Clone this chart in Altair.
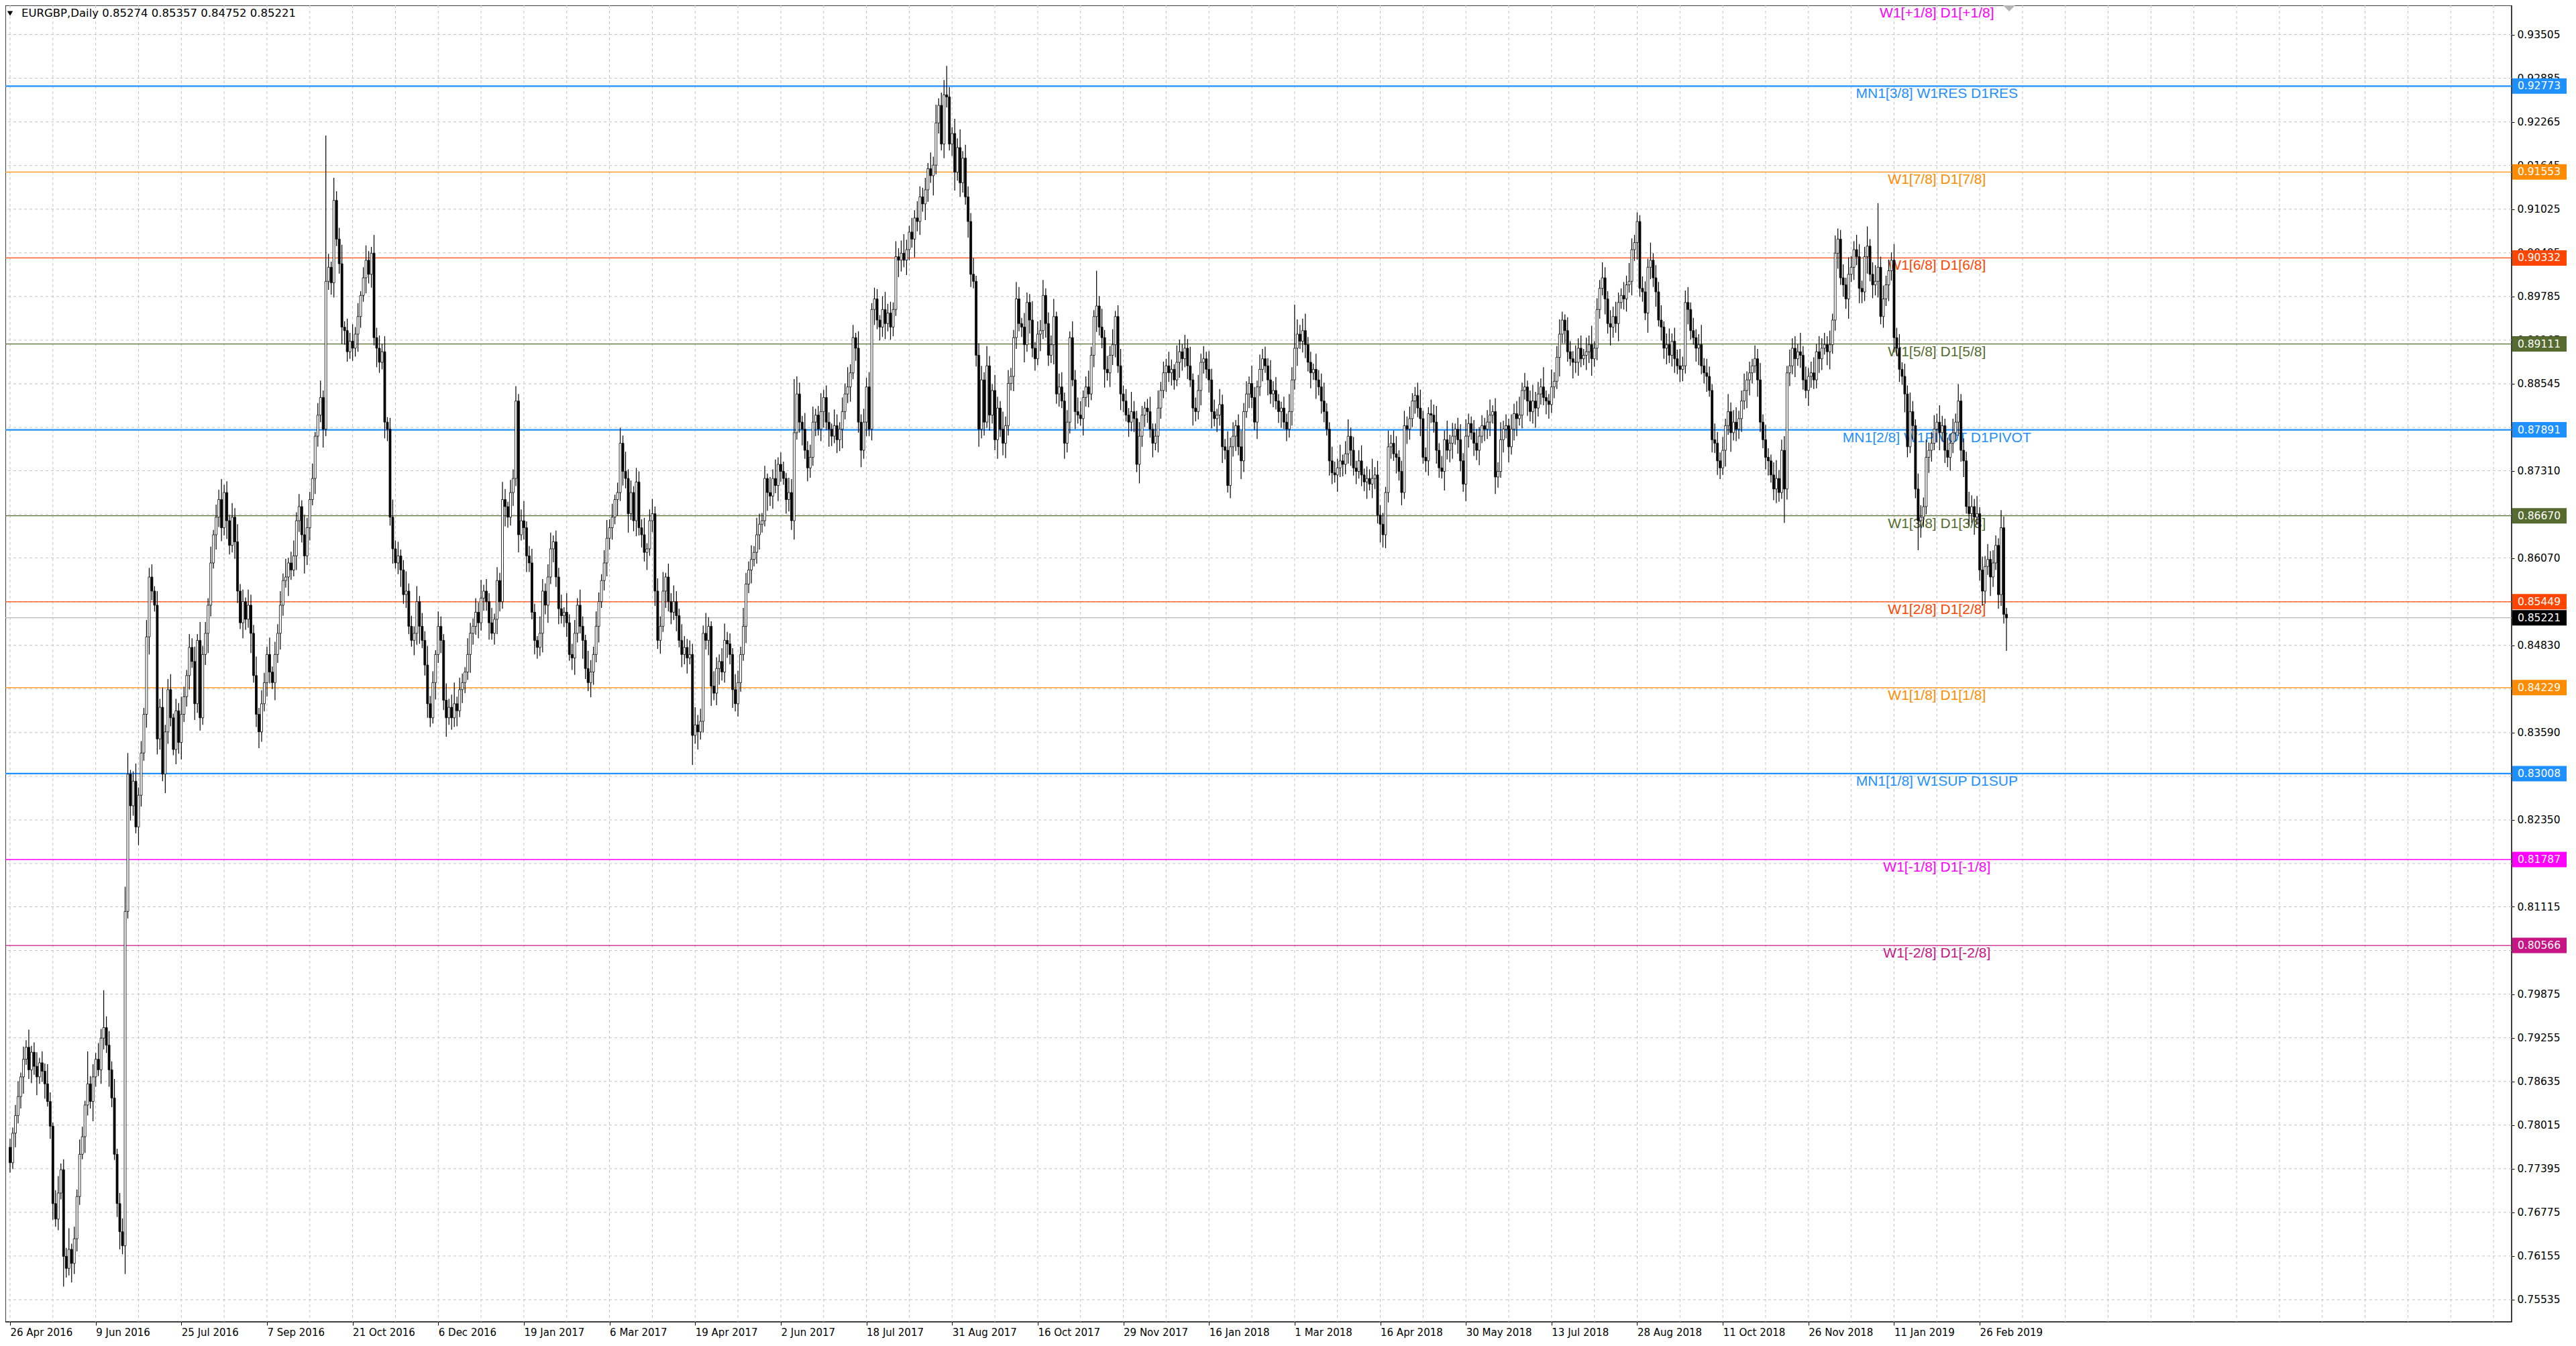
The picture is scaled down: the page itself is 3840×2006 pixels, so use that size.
import altair as alt
import pandas as pd

# EURGBP daily candles from 26 Apr 2016, prices in pips (1e-4)
FIRST_OPEN = 7770
CLOSE = [
    7748, 7790, 7815, 7842, 7870, 7895, 7912, 7880, 7905, 7885,
    7870, 7890, 7878, 7860, 7835, 7800, 7690, 7668, 7705, 7738,
    7615, 7598, 7625, 7605, 7640, 7700, 7760, 7785, 7830, 7860,
    7835, 7870, 7895, 7880, 7925, 7940, 7915, 7880, 7840, 7760,
    7690, 7650, 7630, 8105, 8300, 8255, 8290, 8225, 8270, 8330,
    8385, 8495, 8580, 8560, 8540, 8350, 8395, 8300, 8360, 8420,
    8380, 8335, 8390, 8345, 8385, 8410, 8440, 8480, 8460, 8400,
    8490, 8380, 8470, 8500, 8540, 8600, 8640, 8665, 8690, 8650,
    8700, 8660, 8625, 8665, 8630, 8560, 8515, 8545, 8520, 8540,
    8500, 8440, 8385, 8360, 8400, 8430, 8470, 8445, 8430, 8470,
    8500, 8540, 8575, 8580, 8600, 8590, 8610, 8660, 8680, 8640,
    8610, 8650, 8690, 8720, 8780, 8810, 8835, 8790, 9000, 9020,
    8998, 9115, 9060, 9025, 8935, 8930, 8900, 8915, 8905, 8925,
    8950, 8980, 9005, 9030, 9010, 9040, 8920, 8905, 8885, 8900,
    8800, 8790, 8665, 8620, 8600, 8610, 8590, 8555, 8560, 8510,
    8490, 8500, 8545, 8510, 8490, 8455, 8400, 8380, 8430, 8470,
    8510, 8490, 8405, 8380, 8395, 8380, 8400, 8390, 8420, 8430,
    8445, 8470, 8500, 8510, 8530, 8515, 8550, 8560, 8545, 8515,
    8500, 8520, 8575, 8545, 8690, 8680, 8665, 8700, 8720, 8830,
    8640, 8660, 8650, 8610, 8600, 8530, 8490, 8480, 8500, 8560,
    8540, 8580, 8620, 8630, 8580, 8535, 8525, 8530, 8515, 8470,
    8465, 8500, 8540, 8510, 8490, 8450, 8430, 8445, 8470, 8510,
    8545, 8575, 8600, 8635, 8650, 8665, 8690, 8700, 8770, 8730,
    8720, 8670, 8700, 8660, 8715, 8650, 8640, 8615, 8620, 8660,
    8670, 8560, 8490, 8510, 8560, 8580, 8545, 8530, 8545, 8525,
    8490, 8470, 8480, 8465, 8470, 8355, 8370, 8360, 8375, 8500,
    8490, 8510, 8425, 8415, 8450, 8460, 8445, 8490, 8485, 8470,
    8420, 8400, 8430, 8470, 8510, 8570, 8590, 8605, 8615, 8640,
    8655, 8660, 8720, 8700, 8695, 8720, 8710, 8740, 8730, 8720,
    8690, 8700, 8660, 8785, 8840, 8800, 8790, 8760, 8735, 8750,
    8800, 8810, 8790, 8815, 8835, 8800, 8790, 8780, 8795, 8775,
    8790, 8815, 8840, 8850, 8870, 8920, 8905, 8800, 8760, 8800,
    8850, 8790, 8960, 8975, 8945, 8935, 8960, 8940, 8955, 8935,
    8960, 9035, 9030, 9040, 9030, 9045, 9070, 9060, 9090, 9085,
    9120, 9110, 9130, 9160, 9150, 9165, 9225, 9250, 9195, 9265,
    9262, 9195, 9210, 9155, 9190, 9140, 9175, 9120, 9085, 9010,
    9000, 8895, 8790, 8860, 8800, 8880, 8810, 8845, 8775, 8820,
    8790, 8770, 8795, 8855, 8865, 8920, 8975, 8940, 8935, 8910,
    8970, 8945, 8905, 8890, 8925, 8930, 8980, 8940, 8895, 8910,
    8950, 8840, 8850, 8830, 8770, 8800, 8920, 8860, 8815, 8810,
    8805, 8835, 8850, 8840, 8895, 8950, 8965, 8935, 8920, 8875,
    8870, 8895, 8910, 8950, 8880, 8840, 8830, 8810, 8800, 8815,
    8805, 8740, 8780, 8810, 8820, 8815, 8790, 8770, 8780, 8820,
    8845, 8870, 8880, 8870, 8875, 8860, 8885, 8900, 8890, 8905,
    8880, 8860, 8820, 8815, 8845, 8885, 8890, 8875, 8860, 8815,
    8805, 8810, 8825, 8765, 8760, 8710, 8765, 8780, 8795, 8765,
    8745, 8815, 8840, 8855, 8835, 8800, 8850, 8875, 8890, 8880,
    8860, 8840, 8845, 8830, 8815, 8820, 8800, 8790, 8815, 8860,
    8905, 8925, 8915, 8930, 8910, 8885, 8870, 8875, 8860, 8850,
    8830, 8815, 8790, 8745, 8728, 8725, 8735, 8745, 8740, 8755,
    8780, 8760, 8735, 8730, 8745, 8725, 8715, 8720, 8712, 8720,
    8725, 8668, 8655, 8640, 8700, 8765, 8770, 8755, 8750, 8730,
    8700, 8795, 8790, 8805, 8830, 8838, 8820, 8805, 8750, 8745,
    8812, 8810, 8800, 8760, 8735, 8730, 8775, 8760, 8770, 8780,
    8790, 8775, 8745, 8712, 8780, 8798, 8785, 8770, 8760, 8780,
    8795, 8790, 8800, 8810, 8815, 8722, 8730, 8775, 8790, 8795,
    8765, 8790, 8812, 8805, 8810, 8845, 8850, 8830, 8815, 8830,
    8820, 8840, 8850, 8835, 8830, 8825, 8850, 8858, 8892, 8925,
    8945, 8930, 8900, 8890, 8885, 8885, 8905, 8890, 8895, 8900,
    8910, 8890, 8905, 8960, 8990, 9005, 8975, 8940, 8935, 8950,
    8940, 8970, 8980, 8975, 8995, 9000, 9045, 9055, 9085, 8990,
    8985, 8955, 9020, 9030, 9005, 8985, 8945, 8935, 8905, 8910,
    8895, 8915, 8890, 8880, 8875, 8880, 8970, 8960, 8930, 8920,
    8905, 8910, 8880, 8870, 8865, 8845, 8775, 8770, 8745, 8735,
    8760, 8795, 8815, 8785, 8800, 8790, 8805, 8830, 8845, 8860,
    8870, 8880, 8890, 8860, 8800, 8775, 8750, 8745, 8725, 8705,
    8720, 8700, 8760, 8705, 8870, 8880, 8905, 8890, 8900, 8895,
    8860, 8845, 8865, 8870, 8860, 8900, 8890, 8905, 8910, 8900,
    8910, 8945, 9040, 9060, 9005, 8995, 8975, 9010, 9020, 9045,
    9035, 8990, 8985, 9035, 9050, 9010, 8995, 9000, 9020, 8950,
    8975, 8995, 9015, 9030, 8920, 8905, 8875, 8865, 8840, 8765,
    8815, 8795, 8705, 8660, 8665, 8680, 8750, 8760, 8770, 8790,
    8800, 8785, 8795, 8760, 8750, 8770, 8785, 8800, 8830, 8760,
    8745, 8680, 8670, 8680, 8665, 8670, 8590, 8560, 8595, 8605,
    8580, 8600, 8625, 8555, 8650, 8527, 8522,
]

# upper / lower shadow lengths in pips
UP_WICK = [
    12, 8, 15, 22, 6, 18, 10, 25, 9, 14, 20, 7, 16, 11, 28, 13, 5, 19, 24, 9, 15, 12, 30, 8, 17,
    10, 21, 14, 6, 26, 11, 18, 9, 23, 13, 7, 16, 20, 12, 27, 8, 15, 19, 10, 22, 6, 14, 25, 11, 17,
    9, 24, 13, 18, 7, 20, 12, 28, 10, 15, 22, 6, 17, 11, 25, 14, 8, 19, 13, 21, 9, 26, 12, 16, 10,
    23, 7, 18, 14, 29, 11, 16, 8, 20, 13, 25, 10, 17, 6, 22, 15, 12, 27, 9, 19, 14, 11, 24, 8, 18,
    13, 20, 10, 26, 7, 16, 22, 12, 18, 9, 28, 14, 11, 21, 6, 17, 24, 10, 15, 19, 8, 23, 13, 16, 27,
    8, 17, 12, 24, 10, 19, 6, 15, 21, 13, 9, 26, 14, 18, 11, 22, 7, 16, 25, 12, 20, 9, 14, 28, 11,
    15, 10, 22, 8, 19, 13, 27, 11, 16, 6, 21, 14, 9, 24, 12, 18, 30, 10, 17, 13, 7, 23, 15, 11, 20,
    14, 26, 9, 17, 12, 21, 8, 19, 11, 25, 15, 7, 18, 13, 22, 10, 16, 28, 9, 14, 20, 12, 6, 24, 17,
    11, 18, 23, 9, 16, 13, 20, 7, 27, 12, 15, 19, 10, 22, 14, 8, 25, 17, 11, 21, 13, 9, 18, 26, 12,
    19, 7, 14, 22, 11, 28, 13, 17, 9, 20, 15, 12, 24, 8, 16, 21, 10, 18, 14, 27, 6, 19, 12, 23, 15,
    10, 23, 16, 12, 20, 8, 25, 14, 18, 11, 29, 13, 7, 21, 16, 10, 19, 24, 12, 15, 9, 22, 17, 11, 26,
    16, 12, 20, 9, 24, 15, 11, 18, 7, 22, 13, 27, 10, 17, 14, 8, 21, 19, 12, 25, 16, 9, 23, 13, 18,
    22, 9, 13, 26, 11, 17, 14, 8, 23, 16, 10, 20, 15, 28, 12, 18, 7, 24, 11, 19, 13, 21, 9, 16, 14,
    7, 19, 25, 13, 16, 10, 22, 12, 18, 27, 14, 9, 20, 11, 24, 15, 13, 17, 8, 23, 12, 26, 10, 18, 21,
    18, 14, 9, 21, 13, 26, 10, 19, 15, 12, 23, 8, 17, 20, 11, 28, 14, 9, 22, 16, 10, 25, 13, 19, 12,
    11, 24, 17, 8, 20, 14, 12, 27, 9, 18, 15, 22, 10, 16, 13, 25, 7, 19, 21, 12, 17, 9, 23, 14, 20,
    20, 10, 15, 23, 12, 9, 18, 14, 26, 11, 19, 13, 22, 8, 16, 24, 12, 17, 10, 28, 15, 11, 20, 13, 9,
    13, 21, 8, 18, 25, 12, 16, 10, 20, 14, 7, 24, 17, 11, 19, 13, 27, 9, 15, 22, 12, 18, 10, 26, 16,
    17, 9, 22, 14, 11, 27, 13, 20, 8, 16, 23, 12, 18, 10, 25, 15, 9, 21, 14, 17, 11, 28, 13, 19, 10,
    9, 16, 12, 25, 18, 10, 21, 13, 17, 24, 11, 15, 8, 22, 14, 19, 26, 12, 10, 20, 16, 13, 23, 9, 18,
    24, 12, 19, 10, 15, 22, 9, 17, 13, 28, 11, 20, 14, 16, 8, 23, 12, 18, 25, 10, 15, 21, 13, 17, 11,
    12, 18, 26, 11, 14, 9, 20, 15, 23, 10, 17, 13, 27, 12, 19, 8, 16, 22, 11, 24, 14, 10, 18, 20, 13,
    15, 11, 17, 22, 9, 19, 13, 25, 12, 16, 10, 21, 14, 18, 26, 11, 20, 9, 15, 23, 13, 17, 12, 28, 10,
    10, 25, 13, 16, 21, 12, 8, 19, 15, 11, 24, 14, 18, 9, 20, 13, 27, 10, 16, 12, 22, 15, 11, 19, 14,
    21, 14, 10, 19, 13, 26, 16, 11, 22, 9, 17, 15, 12, 25, 10, 18, 14, 21, 8, 16, 23, 11, 19, 13, 24,
    13, 17, 22, 10, 18, 12, 15, 28, 11, 20, 14, 9, 23, 16, 12, 19, 10, 25, 13, 17, 21, 11, 15, 24, 12,
    16, 10, 19, 14, 24, 11, 21, 13, 9, 18, 26, 12, 15, 20, 10, 23, 14, 17, 11, 27, 13, 19, 12, 16, 22,
    11, 22, 14, 17, 12, 20, 9, 25, 15, 13, 19, 10, 24, 16, 12, 21, 18, 11, 14, 28, 10, 17, 23, 13, 15,
    19, 13, 16, 11, 23, 14, 20, 10, 18, 12, 27, 15, 9, 22, 17, 13, 25, 11, 16, 20, 12, 24, 14, 10, 18,
    14, 20, 12, 24, 10, 17, 13, 21, 16, 11, 25, 9, 19, 15, 22, 12, 18, 14, 10, 23, 16, 13, 20, 11, 17,
]
DN_WICK = [
    14, 9, 20, 11, 17, 24, 8, 13, 19, 12, 26, 10, 15, 21, 7, 18, 23, 11, 16, 9, 22, 13, 10, 27, 15,
    18, 12, 7, 23, 15, 10, 28, 14, 9, 20, 16, 11, 24, 13, 8, 19, 25, 12, 17, 10, 21, 14, 9, 26, 16,
    11, 19, 25, 13, 9, 22, 15, 10, 27, 17, 12, 8, 21, 16, 24, 11, 14, 20, 9, 23, 13, 18, 10, 15, 28,
    16, 8, 21, 14, 19, 11, 26, 13, 10, 24, 17, 9, 22, 15, 12, 28, 10, 18, 23, 14, 11, 20, 16, 9, 25,
    12, 23, 15, 10, 27, 14, 9, 20, 16, 11, 25, 13, 18, 8, 22, 15, 10, 26, 19, 12, 17, 21, 10, 14, 24,
    20, 14, 10, 18, 12, 25, 16, 9, 22, 13, 19, 11, 27, 15, 10, 23, 17, 12, 21, 8, 16, 24, 13, 19, 11,
    9, 21, 16, 25, 11, 15, 20, 13, 8, 24, 12, 18, 14, 27, 10, 17, 13, 22, 9, 19, 15, 11, 26, 16, 12,
    22, 11, 18, 13, 24, 9, 16, 21, 14, 10, 28, 15, 12, 19, 11, 25, 8, 17, 23, 13, 10, 20, 16, 12, 27,
    13, 25, 10, 19, 14, 22, 11, 16, 20, 9, 17, 24, 13, 10, 26, 15, 12, 21, 18, 11, 23, 9, 14, 19, 16,
    17, 10, 23, 12, 20, 14, 27, 9, 15, 22, 11, 18, 13, 25, 10, 16, 21, 12, 19, 8, 24, 14, 17, 11, 22,
    10, 18, 14, 22, 9, 19, 12, 25, 11, 16, 13, 21, 28, 10, 17, 23, 12, 15, 20, 14, 26, 11, 18, 13, 9,
    24, 13, 19, 10, 16, 21, 12, 8, 26, 14, 18, 11, 22, 15, 9, 20, 17, 13, 27, 10, 15, 23, 12, 19, 14,
    12, 20, 9, 17, 23, 11, 25, 14, 10, 19, 16, 27, 11, 13, 21, 9, 18, 15, 24, 12, 20, 10, 16, 22, 13,
    19, 14, 22, 11, 18, 13, 9, 24, 16, 10, 21, 15, 12, 26, 14, 19, 11, 23, 17, 10, 28, 13, 15, 9, 20,
    15, 9, 17, 26, 12, 20, 14, 11, 23, 18, 10, 16, 25, 13, 19, 8, 22, 12, 15, 27, 11, 17, 21, 14, 10,
    21, 16, 11, 14, 25, 10, 19, 13, 17, 9, 24, 12, 20, 15, 11, 28, 14, 18, 10, 22, 13, 16, 9, 25, 12,
    10, 24, 13, 19, 9, 17, 22, 12, 15, 26, 11, 20, 14, 18, 10, 23, 16, 9, 21, 13, 19, 11, 27, 15, 17,
    16, 12, 20, 10, 23, 15, 11, 27, 13, 18, 14, 9, 22, 17, 12, 19, 10, 25, 14, 11, 21, 16, 13, 18, 24,
    11, 19, 15, 23, 13, 10, 18, 14, 21, 12, 26, 16, 9, 20, 15, 11, 24, 13, 17, 10, 22, 14, 19, 12, 16,
    23, 10, 17, 12, 20, 14, 25, 11, 16, 19, 13, 22, 10, 27, 12, 18, 15, 9, 21, 16, 11, 24, 13, 17, 14,
    14, 22, 11, 18, 10, 16, 13, 24, 9, 20, 15, 12, 26, 11, 19, 14, 17, 10, 23, 13, 18, 9, 21, 15, 12,
    18, 13, 25, 9, 16, 21, 11, 15, 19, 14, 10, 27, 13, 17, 22, 12, 20, 15, 11, 24, 16, 10, 18, 14, 21,
    10, 17, 14, 20, 12, 24, 15, 9, 18, 13, 22, 11, 16, 25, 10, 19, 13, 21, 14, 17, 28, 12, 15, 11, 19,
    20, 12, 16, 11, 27, 13, 18, 14, 10, 23, 15, 19, 12, 9, 21, 16, 24, 11, 17, 13, 10, 22, 14, 26, 15,
    13, 25, 9, 15, 18, 11, 20, 16, 24, 12, 14, 10, 28, 17, 13, 21, 9, 19, 15, 23, 11, 16, 20, 12, 18,
    17, 11, 21, 13, 10, 19, 24, 12, 15, 22, 9, 18, 14, 20, 16, 10, 23, 13, 27, 11, 17, 14, 19, 12, 25,
    22, 15, 10, 24, 14, 12, 17, 21, 11, 16, 20, 13, 9, 23, 15, 19, 12, 26, 10, 18, 14, 11, 22, 16, 13,
    12, 20, 16, 9, 19, 25, 13, 15, 22, 10, 17, 14, 28, 11, 18, 12, 21, 16, 13, 24, 10, 19, 15, 23, 11,
    16, 10, 23, 14, 21, 11, 18, 12, 26, 15, 9, 20, 13, 17, 24, 14, 11, 22, 16, 10, 19, 25, 12, 18, 14,
    19, 14, 12, 20, 16, 23, 10, 17, 13, 25, 11, 15, 21, 18, 12, 27, 14, 10, 20, 16, 13, 22, 17, 11, 15,
]
# the long shadows: flash crash, Brexit night, yearly highs and lows
UP_SPIKE = {29: 46, 35: 53, 43: 35, 44: 30, 118: 207, 121: 32, 189: 21, 255: 15,
            293: 76, 350: 41, 406: 50, 480: 62, 608: 13, 698: 91, 744: 25, 746: 9}
DN_SPIKE = {20: 43, 43: 40, 44: 10, 118: 10, 255: 42, 513: 18, 663: 48, 713: 42, 746: 47}

DATE_LABELS = [
    "26 Apr 2016", "9 Jun 2016", "25 Jul 2016", "7 Sep 2016", "21 Oct 2016", "6 Dec 2016",
    "19 Jan 2017", "6 Mar 2017", "19 Apr 2017", "2 Jun 2017", "18 Jul 2017", "31 Aug 2017",
    "16 Oct 2017", "29 Nov 2017", "16 Jan 2018", "1 Mar 2018", "16 Apr 2018", "30 May 2018",
    "13 Jul 2018", "28 Aug 2018", "11 Oct 2018", "26 Nov 2018", "11 Jan 2019", "26 Feb 2019",
]
Y_TICKS = [0.93505, 0.92885, 0.92265, 0.91645, 0.91025, 0.90405, 0.89785, 0.89165, 0.88545,
           0.87925, 0.87310, 0.86690, 0.86070, 0.85450, 0.84830, 0.84210, 0.83590, 0.82970,
           0.82350, 0.81730, 0.81115, 0.80495, 0.79875, 0.79255, 0.78635, 0.78015, 0.77395,
           0.76775, 0.76155, 0.75535]
# price scale labels that the level boxes hide completely on the terminal
HIDDEN_TICKS = [0.85450, 0.84210, 0.82970, 0.81730, 0.80495]

LEVEL_NAMES = ["W1[+1/8] D1[+1/8]", "MN1[3/8] W1RES D1RES", "W1[7/8] D1[7/8]", "W1[6/8] D1[6/8]",
               "W1[5/8] D1[5/8]", "MN1[2/8] W1PIVOT D1PIVOT", "W1[3/8] D1[3/8]", "W1[2/8] D1[2/8]",
               "W1[1/8] D1[1/8]", "MN1[1/8] W1SUP D1SUP", "W1[-1/8] D1[-1/8]", "W1[-2/8] D1[-2/8]"]
LEVEL_PRICES = [0.93994, 0.92773, 0.91553, 0.90332, 0.89111, 0.87891, 0.86670, 0.85449,
                0.84229, 0.83008, 0.81787, 0.80566]
SYMBOL = "EURGBP,Daily"
LAST_QUOTE = [0.85274, 0.85357, 0.84752, 0.85221]  # open high low close
BID = 0.85221

LEVEL_PALETTE = ["#ff00ff", "#1e90ff", "#ff8c00", "#ff4500", "#556b2f", "#1e90ff",
                 "#556b2f", "#ff4500", "#ff8c00", "#1e90ff", "#ff00ff", "#c71585"]

W, H = 3736, 1962
Y_TOP, Y_BOTTOM = 0.9392, 0.7522
LABEL_STEP = 32
LABEL_BAR = 720
FONT = "DejaVu Sans"
GRID = "#c4c4c4"

# build the candle table
n = len(CLOSE)
opens = [FIRST_OPEN] + CLOSE[:-1]
rows = []
for i in range(n):
    o, c = opens[i], CLOSE[i]
    hi = max(o, c) + UP_SPIKE.get(i, UP_WICK[i])
    lo = min(o, c) - DN_SPIKE.get(i, DN_WICK[i])
    rows.append({"bar": i, "open": o / 1e4, "close": c / 1e4, "high": hi / 1e4, "low": lo / 1e4})
bars = pd.DataFrame(rows)

levels = pd.DataFrame({"name": LEVEL_NAMES, "price": LEVEL_PRICES, "label_bar": LABEL_BAR})
# a level above the window keeps its caption pinned under the top edge
levels["label_price"] = levels["price"].clip(upper=Y_TOP)
boxes = pd.concat([levels[levels.price < Y_TOP][["name", "price"]],
                   pd.DataFrame({"name": ["bid"], "price": [BID]})])
bid = pd.DataFrame({"price": [BID]})
header = pd.DataFrame({"t": [SYMBOL + "  " + " ".join(f"{v:.5f}" for v in LAST_QUOTE)]})

x_scale = alt.Scale(domain=[-0.5, W / 4 - 0.5], nice=False, zero=False)
y_scale = alt.Scale(domain=[Y_BOTTOM, Y_TOP], nice=False, zero=False)
color_scale = alt.Scale(domain=LEVEL_NAMES + ["bid"], range=LEVEL_PALETTE + ["black"])

tick_bars = [k * LABEL_STEP for k in range(len(DATE_LABELS))]
label_expr = "[" + ",".join(f"'{d}'" for d in DATE_LABELS) + "][round(datum.value / 32)]"
shown_ticks = [v for v in Y_TICKS if v not in HIDDEN_TICKS]

x_axis = alt.Axis(values=tick_bars, labelExpr=label_expr, labelAlign="left", title=None,
                  labelFont=FONT, labelFontSize=15, labelColor="black", labelBaseline="top",
                  labelPadding=3, labelOverlap=False, labelFlush=False,
                  tickColor="black", tickSize=5, domain=False, grid=False, zindex=0)
y_axis = alt.Axis(orient="right", values=shown_ticks, format=".5f", title=None,
                  labelFont=FONT, labelFontSize=15.5, labelColor="black",
                  labelPadding=4, labelOverlap=False, labelFlush=False,
                  tickColor="black", tickSize=4, domain=False, grid=False, zindex=0)


def X(field):
    return alt.X(field, scale=x_scale, axis=x_axis, title=None)


def Y(field):
    return alt.Y(field, scale=y_scale, axis=y_axis, title=None)


grid_x = alt.Chart(pd.DataFrame({"bar": list(range(0, W // 4, 16))})).mark_rule(
    color=GRID, strokeDash=[4, 4], strokeWidth=1
).encode(x=X("bar:Q"))

grid_y = alt.Chart(pd.DataFrame({"price": Y_TICKS})).mark_rule(
    color=GRID, strokeDash=[4, 4], strokeWidth=1
).encode(y=Y("price:Q"))

level_lines = alt.Chart(levels).mark_rule(clip=True).encode(
    y=Y("price:Q"),
    color=alt.Color("name:N", scale=color_scale, legend=None),
    strokeWidth=alt.condition("indexof(datum.name, 'MN1') == 0", alt.value(2.2), alt.value(1.3)),
)

bid_line = alt.Chart(bid).mark_rule(color="#b8b8b8", strokeWidth=1.3).encode(y=Y("price:Q"))

level_text = alt.Chart(levels).mark_text(
    font="Liberation Sans", fontSize=21, align="center", baseline="middle", dy=12, clip=False
).encode(
    x=X("label_bar:Q"),
    y=Y("label_price:Q"),
    text="name:N",
    color=alt.Color("name:N", scale=color_scale, legend=None),
)

wicks = alt.Chart(bars).mark_rule(color="black", strokeWidth=1.2).encode(
    x=X("bar:Q"), y=Y("low:Q"), y2="high:Q"
)

bodies = alt.Chart(bars).mark_bar(size=3, stroke="black", strokeWidth=0.8).encode(
    x=X("bar:Q"),
    y=Y("open:Q"),
    y2="close:Q",
    fill=alt.condition("datum.close >= datum.open", alt.value("white"), alt.value("black")),
)

price_boxes = alt.Chart(boxes).mark_rect(yOffset=-11.5, y2Offset=11.5, clip=False).encode(
    x=alt.value(W + 1),
    x2=alt.value(W + 82),
    y=Y("price:Q"),
    y2="price:Q",
    color=alt.Color("name:N", scale=color_scale, legend=None),
)

price_text = alt.Chart(boxes).mark_text(
    font=FONT, fontSize=15.5, color="white", align="center", baseline="middle", clip=False
).encode(
    x=alt.value(W + 41),
    y=Y("price:Q"),
    text=alt.Text("price:Q", format=".5f"),
)

title_text = alt.Chart(header).mark_text(
    font=FONT, fontSize=16.5, color="black", align="left", baseline="middle"
).encode(x=alt.value(24), y=alt.value(12), text="t:N")

title_arrow = alt.Chart(header).mark_point(
    shape="triangle-down", filled=True, color="black", size=70, opacity=1
).encode(x=alt.value(7), y=alt.value(12))

# chart-shift marker hanging from the top edge after the last bar
shift_mark = alt.Chart(pd.DataFrame({"bar": [n]})).mark_point(
    shape="M-1,-0.5L1,-0.5L0,0.5Z", filled=True, color="#b4b4b4", size=400, opacity=1, clip=False
).encode(x=X("bar:Q"), y=alt.value(4))

chart = alt.layer(
    grid_x, grid_y, level_lines, bid_line, level_text, wicks, bodies,
    price_boxes, price_text, title_text, title_arrow, shift_mark,
).properties(
    width=W, height=H, background="white",
    autosize=alt.AutoSizeParams(type="none"),
    padding={"left": 0, "top": 0, "right": 88, "bottom": 34},
).configure_view(stroke="black", strokeWidth=1.5)

chart.save("out.html", embed_options={"renderer": "svg", "actions": False})
